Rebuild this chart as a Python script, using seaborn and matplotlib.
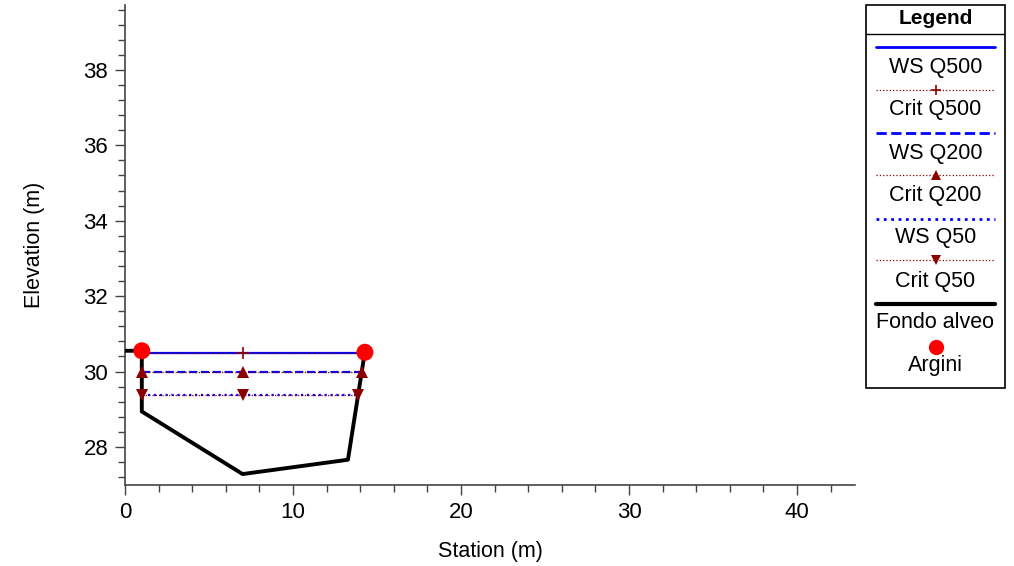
import matplotlib
matplotlib.use("Agg")
import matplotlib.pyplot as plt
import seaborn as sns
from matplotlib.ticker import MultipleLocator
from matplotlib.patches import Rectangle

# ground profile (Fondo alveo)
ground_station = [0.0, 1.0, 1.0, 7.0, 13.27, 14.28]
ground_elev = [30.55, 30.55, 28.94, 27.28, 27.66, 30.53]

# levees (Argini)
levee_station = [1.0, 14.28]
levee_elev = [30.55, 30.51]

# water surfaces: stations where the line is drawn / marked
ws_names = ["Q500", "Q200", "Q50"]
ws_elev = [30.48, 29.98, 29.38]
crit_elev = [30.48, 29.98, 29.38]
ws_stations = [[1.0, 7.0, 14.26], [1.0, 7.0, 14.09], [1.0, 7.0, 13.88]]

sns.set_style("ticks")
plt.rcParams["font.family"] = ["Liberation Sans", "DejaVu Sans"]
plt.rcParams["text.color"] = "black"
plt.rcParams["axes.labelcolor"] = "black"
plt.rcParams["xtick.labelcolor"] = "black"
plt.rcParams["ytick.labelcolor"] = "black"
FS = 15.5

fig = plt.figure(figsize=(10.14, 5.66), dpi=100)
ax = fig.add_axes([125 / 1014, 1 - 485 / 566, 730 / 1014, 480 / 566])

ws_styles = ["-", "--", ":"]
crit_markers = ["+", "^", "v"]
for i, name in enumerate(ws_names):
    st = ws_stations[i]
    sns.lineplot(x=st, y=[ws_elev[i]] * len(st), ax=ax, color="#0000ff",
                 linestyle=ws_styles[i], linewidth=1.6, sort=False,
                 estimator=None, errorbar=None, zorder=3)
    sns.lineplot(x=st, y=[crit_elev[i]] * len(st), ax=ax, color="#8b0000",
                 linestyle=":", linewidth=0.9, marker=crit_markers[i],
                 markersize=8 if crit_markers[i] != "+" else 9,
                 markeredgewidth=1.2 if crit_markers[i] == "+" else 0,
                 markerfacecolor="#8b0000", markeredgecolor="#8b0000",
                 sort=False, estimator=None, errorbar=None, zorder=6)

sns.lineplot(x=ground_station, y=ground_elev, ax=ax, color="black",
             linewidth=2.8, sort=False, estimator=None, errorbar=None,
             zorder=5)
sns.scatterplot(x=levee_station, y=levee_elev, ax=ax, color="#ff0000",
                s=150, edgecolor="none", zorder=7)

ax.set_xlim(0, 43.45)
ax.set_ylim(26.99, 39.72)
ax.xaxis.set_major_locator(MultipleLocator(10))
ax.xaxis.set_minor_locator(MultipleLocator(2))
ax.yaxis.set_major_locator(MultipleLocator(2))
ax.yaxis.set_minor_locator(MultipleLocator(0.4))
ax.tick_params(which="major", length=7, width=1, color="#444444",
               labelsize=16, pad=5)
ax.tick_params(which="minor", length=5, width=1, color="#444444")
for s in ["top", "right"]:
    ax.spines[s].set_visible(False)
for s in ["left", "bottom"]:
    ax.spines[s].set_color("#444444")
    ax.spines[s].set_linewidth(1.2)
ax.set_xlabel("Station (m)", fontsize=FS, labelpad=13)
ax.set_ylabel("Elevation (m)", fontsize=FS, labelpad=28)
ax.set_facecolor("white")

# legend box drawn as its own panel
W, H = 139, 383
lax = fig.add_axes([866 / 1014, 1 - 388 / 566, W / 1014, H / 566])
lax.set_xlim(0, W)
lax.set_ylim(H, 0)
lax.axis("off")
lax.add_patch(Rectangle((0, 0), W, H, fill=False, edgecolor="black",
                        linewidth=1.2, clip_on=False))
lax.plot([0, W], [29, 29], color="black", linewidth=1)
lax.text(W / 2, 14, "Legend", ha="center", va="center", fontsize=15,
         fontweight="bold")

entries = [
    ("WS Q500", "#0000ff", "-", 2.0, None),
    ("Crit Q500", "#8b0000", ":", 0.9, "+"),
    ("WS Q200", "#0000ff", "--", 2.0, None),
    ("Crit Q200", "#8b0000", ":", 0.9, "^"),
    ("WS Q50", "#0000ff", ":", 2.0, None),
    ("Crit Q50", "#8b0000", ":", 0.9, "v"),
    ("Fondo alveo", "black", "-", 3.0, None),
]
line_y = [42, 84.5, 127.5, 170, 213.5, 255, 298.5]
text_y = [63, 105, 148, 191, 233, 276, 318]
for (lab, c, ls, lw, mk), ly, ty in zip(entries, line_y, text_y):
    lax.plot([10, 129], [ly, ly], color=c, linestyle=ls, linewidth=lw)
    if mk:
        lax.plot([W / 2], [ly], marker=mk, color=c, markersize=7,
                 markeredgewidth=1.2 if mk == "+" else 0)
    lax.text(W / 2, ty, lab, ha="center", va="center", fontsize=FS)
lax.plot([W / 2], [341.5], marker="o", color="#ff0000", markersize=11,
         markeredgewidth=0)
lax.text(W / 2, 361, "Argini", ha="center", va="center", fontsize=FS)

fig.savefig("out.png", dpi=100, facecolor="white")
